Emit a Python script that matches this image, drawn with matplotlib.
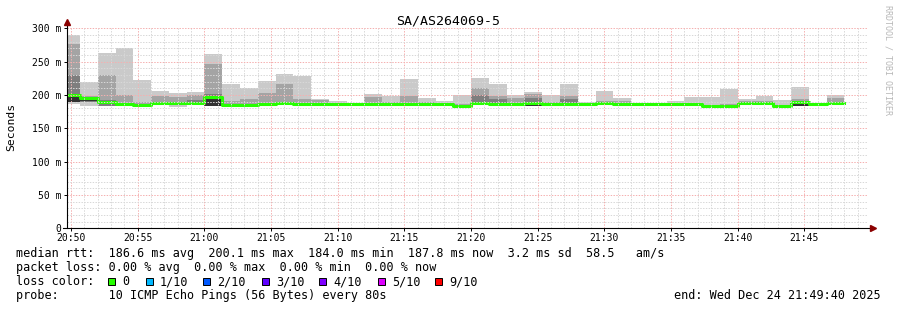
import numpy as np
import pandas as pd
import matplotlib
matplotlib.use('Agg')
import matplotlib.pyplot as plt
import matplotlib.dates as mdates
from matplotlib.ticker import MultipleLocator, FuncFormatter
from matplotlib.patches import Rectangle

plt.rcParams['font.family'] = 'DejaVu Sans Mono'

# data: 80 s steps, values in ms
title = 'SA/AS264069-5'
t_first = '2025-12-24 20:49:20'
step_s = 80

rtt_max = [290, 220, 263, 270, 222, 206, 203, 205, 261, 217,
           210.5, 221, 231, 229, 193.5, 191, 187.5, 201.5, 198.5, 224,
           196, 191.5, 200, 226, 216.5, 200, 204.5, 200, 216.5, 190,
           206.5, 195, 187.5, 187.5, 191, 197.5, 196.5, 209.5, 194, 199,
           192.5, 212, 187.5, 200]
rtt_hi2 = [276, 199, 230, 200, 189, 199, 197, 200, 246, 191,
           194, 203, 216.5, 194, 193, 188, 186.5, 197.5, 190, 199,
           190, 188, 186, 210.5, 198, 195, 201, 190, 198.5, 188,
           191.5, 191, 186.5, 186.5, 187, 187, 185, 186, 191, 191,
           185, 194, 186.5, 195]
rtt_hi3 = [230, 196, 192, 188, 186, 188, 188, 192, 201.5, 185,
           186, 188, 190, 187, 188, 187, 186, 188.5, 187, 188,
           187.5, 187, 185, 200, 194, 187, 196, 187, 194, 187,
           189, 188.5, 186.5, 186.5, 186.5, 186.5, 184.5, 184.5, 188, 189,
           184.5, 191, 186.5, 189]
rtt_lo = [189, 190, 184, 184.5, 184.5, 185, 185.5, 185.5, 184, 183.5,
          183.5, 185, 185.5, 185, 185, 185, 185, 185, 185, 185,
          185, 185.5, 183, 185, 185, 185, 184, 185, 185, 185,
          185.5, 185, 185, 185, 185, 185, 183, 183, 185.5, 186,
          183, 185, 185, 186]
rtt_min = [186, 184, 183.5, 183.5, 184, 184.5, 182.5, 185, 183.5, 183,
           183, 184.5, 185, 185, 185, 185, 185, 185, 185, 185,
           185, 185, 183, 184.5, 185, 185, 183, 185, 185, 185,
           185, 185, 185, 185, 185, 185, 183, 182.5, 185, 185,
           183, 183.5, 185, 185]
dark_lo = [190, 191, 186, 184, 184.5, 184.5, 185.5, 186.5, 184, 183.5,
           184, 185.5, 186.5, 185.5, 186, 186, 185.5, 185.5, 185.5, 185.5,
           185.5, 186, 183, 184.5, 186, 185.5, 183.5, 185.5, 186, 185.5,
           187, 185.5, 185.5, 185.5, 185.5, 185.5, 183, 183, 186.5, 187.5,
           183, 183.5, 185.5, 186.5]
dark_hi = [198, 194, 190, 187, 186.5, 187, 187.5, 188.5, 195, 185.5,
           186, 187.5, 188.5, 187.5, 188, 188, 187, 187, 187, 187,
           187.5, 188, 185, 189, 188, 187.5, 189, 187.5, 188, 187.5,
           189, 187.5, 187.5, 187.5, 187.5, 187.5, 185, 185, 188.5, 189.5,
           185, 188, 187.5, 188.5]
median = [200.1, 195, 189, 186.5, 185.5, 187.5, 188, 187.5, 196.5, 184.5,
          185, 186.5, 187.5, 186.5, 187, 187, 186, 186, 186, 186,
          186.5, 187, 184, 188, 187, 186.5, 188, 186.5, 187, 186.5,
          188, 186.5, 186.5, 186.5, 186.5, 186.5, 184, 184, 187.5, 188.5,
          184, 190, 186.5, 187.8]

loss_labels = ['0', '1/10', '2/10', '3/10', '4/10', '5/10', '9/10']
loss_colors = ['#26ff00', '#00b8ff', '#0059ff', '#5e00ff', '#7e00ff', '#dd00ff', '#ff0000']
loss_box_x = [108.3, 145.7, 203.3, 261.7, 319.3, 377.7, 435]

legend_lines = [
    'median rtt:  186.6 ms avg  200.1 ms max  184.0 ms min  187.8 ms now  3.2 ms sd  58.5   am/s',
    'packet loss: 0.00 % avg  0.00 % max  0.00 % min  0.00 % now',
    'loss color:',
    'probe:       10 ICMP Echo Pings (56 Bytes) every 80s',
]
end_text = 'end: Wed Dec 24 21:49:40 2025'

W, H = 897, 310
fig = plt.figure(figsize=(W / 100, H / 100), dpi=100)
fig.patch.set_facecolor('white')
ax = fig.add_axes([66.7 / W, 1 - 228.3 / H, 800 / W, 200 / H])

starts = pd.date_range(t_first, periods=len(rtt_max), freq=f'{step_s}s')
x = mdates.date2num(starts)
w = step_s / 86400

smoke = [(rtt_min, rtt_max, '#cacaca'),
         (rtt_lo, rtt_hi2, '#a4a4a4'),
         (rtt_lo, rtt_hi3, '#7e7e7e'),
         (dark_lo, dark_hi, '#323232')]
for lo, hi, c in smoke:
    lo = np.array(lo, float)
    hi = np.array(hi, float)
    ax.bar(x, np.maximum(hi - lo, 0), bottom=lo, width=w, align='edge',
           color=c, linewidth=0, zorder=1)

xs = np.append(x, x[-1] + w)
ys = np.append(median, median[-1])
ax.step(xs, ys, where='post', color=loss_colors[0], lw=2.2, zorder=2)

t0 = mdates.date2num(pd.Timestamp('2025-12-24 20:49:40'))
t1 = mdates.date2num(pd.Timestamp('2025-12-24 21:49:40'))
ax.set_xlim(t0, t1)
ax.set_ylim(0, 300)

ax.xaxis.set_major_locator(mdates.MinuteLocator(byminute=range(0, 60, 5)))
ax.xaxis.set_minor_locator(mdates.MinuteLocator())
ax.xaxis.set_major_formatter(mdates.DateFormatter('%H:%M'))
ax.yaxis.set_major_locator(MultipleLocator(50))
ax.yaxis.set_minor_locator(MultipleLocator(10))
ax.yaxis.set_major_formatter(FuncFormatter(lambda v, _: '0' if v == 0 else f'{v:.0f} m'))

ax.set_axisbelow(False)
ax.grid(which='minor', color='#d8d8d8', lw=0.72, ls=(0, (1.4, 1.4)))
ax.grid(which='major', color='#f5b0b0', lw=0.72, ls=(0, (1.4, 1.4)))

for s in ax.spines.values():
    s.set_visible(False)
ax.tick_params(which='major', length=2, width=0.7, labelsize=7, pad=2)
ax.tick_params(which='minor', length=0)
ax.tick_params(axis='x', pad=1.5)

# axes with arrows
ax.plot([0, 0], [0, 1.03], transform=ax.transAxes, color='black', lw=0.8, clip_on=False, zorder=4)
ax.plot([-4 / 800, 1 + 5 / 800], [0, 0], transform=ax.transAxes, color='black', lw=0.8, clip_on=False, zorder=4)
ax.plot([0], [1.03], marker='^', ms=4, color='#8b0000', transform=ax.transAxes, clip_on=False, zorder=5)
ax.plot([1 + 6 / 800], [0], marker='>', ms=4, color='#8b0000', transform=ax.transAxes, clip_on=False, zorder=5)

fig.text(447.8 / W, 1 - 24 / H, title, ha='center', va='baseline', fontsize=9.5)
fig.text(11 / W, 1 - 127 / H, 'Seconds', rotation=90, ha='center', va='center', fontsize=8.2)
fig.text(888 / W, 1 - 60 / H, 'RRDTOOL / TOBI OETIKER', rotation=270, ha='center', va='center',
         fontsize=6, color='#b8b8b8')

baselines = [256.7, 270.9, 285.2, 299.4]
for line, b in zip(legend_lines, baselines):
    fig.text(16 / W, 1 - b / H, line, ha='left', va='baseline', fontsize=8.5)
fig.text(881 / W, 1 - baselines[3] / H, end_text, ha='right', va='baseline', fontsize=8.5)

for bx, lab, c in zip(loss_box_x, loss_labels, loss_colors):
    fig.add_artist(Rectangle((bx / W, 1 - 285.3 / H), 7 / W, 7 / H, transform=fig.transFigure,
                             facecolor=c, edgecolor='black', lw=0.7))
    fig.text((bx + 14.3) / W, 1 - baselines[2] / H, lab, ha='left', va='baseline', fontsize=8.5)

fig.savefig('out.png', dpi=100)
